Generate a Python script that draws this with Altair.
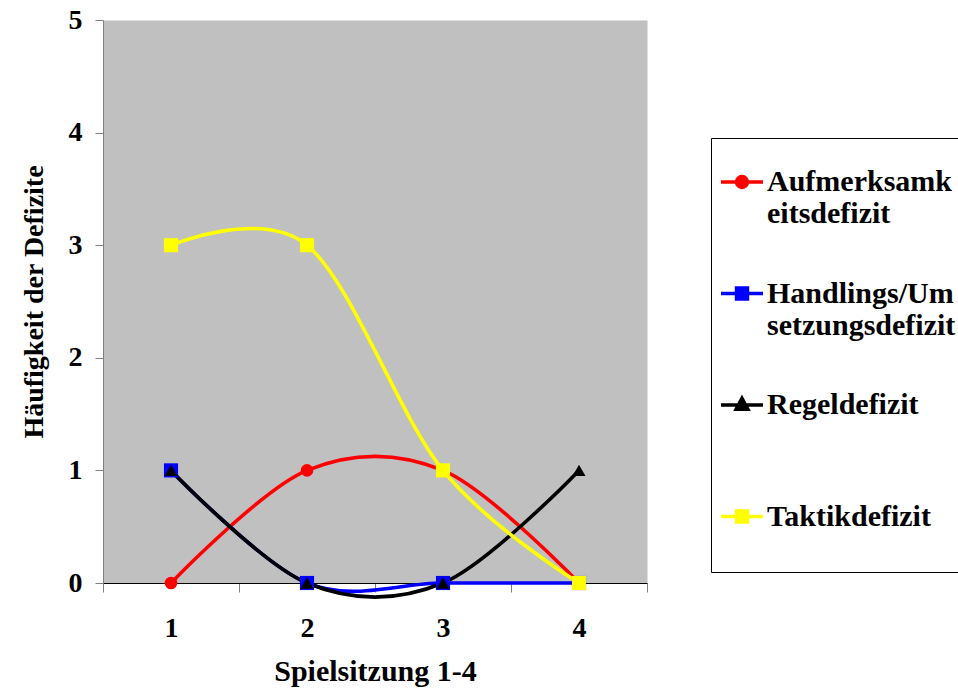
import altair as alt
import pandas as pd

# ---------------- data ----------------
sessions = ["1", "2", "3", "4"]
series = ["Aufmerksamkeitsdefizit", "Handlings/Umsetzungsdefizit", "Regeldefizit", "Taktikdefizit"]
aufmerksamkeitsdefizit = [0, 1, 1, 0]
handlungsdefizit = [1, 0, 0, 0]
regeldefizit = [1, 0, 0, 1]
taktikdefizit = [3, 3, 1, 0]
y_ticks = [0, 1, 2, 3, 4, 5]
legend_label_lines = [
    ["Aufmerksamk", "eitsdefizit"],
    ["Handlings/Um", "setzungsdefizit"],
    ["Regeldefizit", " "],
    ["Taktikdefizit", " "],
]
colors = ["#FF0000", "#0000FF", "#000000", "#FFFF00"]
marker_shapes = ["circle", "square", "triangle-up", "square"]

values = [aufmerksamkeitsdefizit, handlungsdefizit, regeldefizit, taktikdefizit]
rows = []
for name, shape, vals in zip(series, marker_shapes, values):
    for s, v in zip(sessions, vals):
        rows.append({"Spielsitzung": s, "Anzahl": v, "Defizit": name, "Marker": shape})
df = pd.DataFrame(rows)

# ---------------- legend symbols (line + marker) ----------------
r = 0.26
line_path = "M-1,0H1"
circle_path = f"M{-r},0A{r},{r},0,1,0,{r},0A{r},{r},0,1,0,{-r},0Z"
square_path = f"M{-r},{-r}H{r}V{r}H{-r}Z"
tri_path = "M0,-0.32L0.28,0.2H-0.28Z"
legend_symbols = [line_path + circle_path, line_path + square_path,
                  line_path + tri_path, line_path + square_path]

label_expr = " : ".join(
    "datum.label == '" + name + "' ? [" + ", ".join("'" + t + "'" for t in lines) + "]"
    for name, lines in zip(series, legend_label_lines)
) + " : datum.label"

FONT = "Liberation Serif"

color_scale = alt.Scale(domain=series, range=colors)
legend = alt.Legend(
    title=" ", titleFontSize=2, titlePadding=11,
    orient="none", legendX=608, legendY=118, direction="vertical",
    padding=8, strokeColor="#000000", fillColor="#FFFFFF",
    labelFont=FONT, labelFontSize=30, labelFontWeight="bold", labelColor="#000000",
    labelLimit=400, labelOffset=2, labelExpr=label_expr,
    symbolSize=1764, symbolStrokeWidth=3.5, symbolOpacity=1,
    rowPadding=41.5,
)

x = alt.X(
    "Spielsitzung:O",
    scale=alt.Scale(type="band", domain=sessions, paddingInner=0, paddingOuter=0),
    bandPosition=0.5,
    axis=alt.Axis(
        title="Spielsitzung 1-4", labelAngle=0, tickBand="extent", grid=False,
        domainColor="#000000", tickColor="#808080", tickSize=9,
        labelFont=FONT, labelFontSize=28, labelFontWeight="bold", labelColor="#000000",
        labelPadding=22,
        titleFont=FONT, titleFontSize=30, titleFontWeight="bold", titleColor="#000000",
        titlePadding=14,
    ),
)
y = alt.Y(
    "Anzahl:Q",
    scale=alt.Scale(domain=[0, 5], nice=False),
    axis=alt.Axis(
        title="Häufigkeit der Defizite", values=y_ticks, format="d", grid=False,
        domainColor="#808080", tickColor="#808080", tickSize=8,
        labelFont=FONT, labelFontSize=28, labelFontWeight="bold", labelColor="#000000",
        labelPadding=13,
        titleFont=FONT, titleFontSize=28, titleFontWeight="bold", titleColor="#000000",
        titlePadding=20,
    ),
)

base = alt.Chart(df)
color_nolegend = alt.Color("Defizit:N", scale=color_scale, legend=None)

legend_layer = base.transform_filter("false").mark_point(filled=True, opacity=1).encode(
    x=x, y=y,
    color=alt.Color("Defizit:N", scale=color_scale, legend=legend),
    stroke=alt.Stroke("Defizit:N", scale=color_scale, legend=legend),
    shape=alt.Shape("Defizit:N", scale=alt.Scale(domain=series, range=legend_symbols), legend=legend),
)

lines = base.mark_line(interpolate="cardinal", strokeWidth=3.6).encode(
    x=x, y=y, color=color_nolegend
)

circles = base.transform_filter(alt.datum.Marker == "circle").mark_point(
    shape="circle", filled=True, size=160, opacity=1
).encode(x=x, y=y, color=color_nolegend)

squares = base.transform_filter(alt.datum.Marker == "square").mark_point(
    shape="square", filled=True, size=200, opacity=1
).encode(x=x, y=y, color=color_nolegend)

triangles = base.transform_filter(alt.datum.Marker == "triangle-up").mark_point(
    shape="triangle-up", filled=True, size=170, opacity=1
).encode(x=x, y=y, color=color_nolegend)

chart = alt.layer(legend_layer, lines, circles, squares, triangles).properties(
    width=544,
    height=563,
    autosize=alt.AutoSizeParams(type="none"),
    padding={"left": 103, "top": 20, "right": 311, "bottom": 107},
    background="#FFFFFF",
).configure(
    style={"guide-label": {"lineHeight": 32}},
    view=alt.ViewConfig(fill="#C0C0C0", stroke="transparent"),
)

chart.save("out.html", embed_options={"renderer": "svg", "actions": False})
